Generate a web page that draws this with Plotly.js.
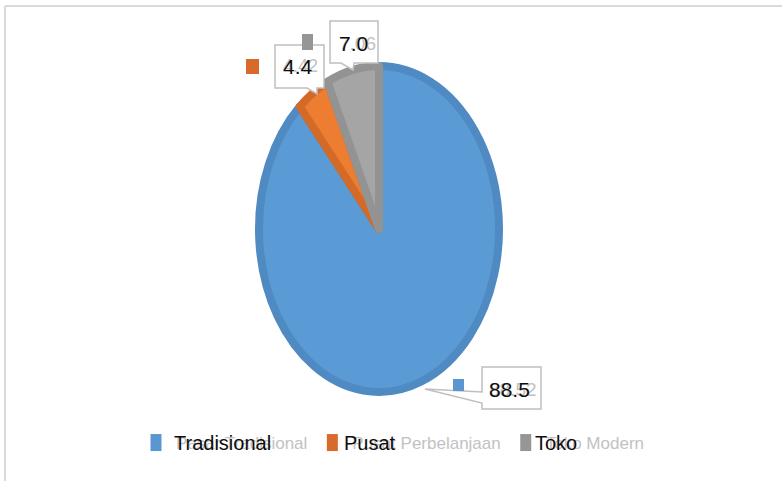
<!DOCTYPE html>
<html><head><meta charset="utf-8">
<script src="https://cdn.plot.ly/plotly-3.0.1.min.js"></script>
<style>html,body{margin:0;padding:0;background:#fff}#chart{width:782px;height:481px}</style>
</head><body><div id="chart"></div>
<script>
// ---- data ----
const categories = ['Pasar Tradisional', 'Pusat Perbelanjaan', 'Toko Modern'];
const shortLabels = ['Tradisional', 'Pusat', 'Toko'];
const values = [88.52, 4.42, 7.06];

// ---- styling ----
const fillColors = ['#5b9bd5', '#ed7d31', '#a5a5a5'];
const edgeColors = ['#4f8ac2', '#d46a28', '#939393'];
const keyColors = ['#5a97d0', '#d86b2b', '#969696'];
const GHOST = '#c2c2c2';
const FONT = 'Liberation Sans, Arial, sans-serif';

const W = 782, H = 481;
const fx = x => x / W;
const fy = y => 1 - y / H;

// pie placement (pixels) and vertical stretch of the ellipse
const pieCx = 379, pieCy = 229, pieR = 120, stretch = 1.358;
const domain = {
  x: [fx(pieCx - pieR), fx(pieCx + pieR)],
  y: [fy(pieCy + pieR), fy(pieCy - pieR)]
};

// callout boxes (pixels): box, pointer, key square, text start/centre
const callouts = [
  {box: [482, 367, 541, 409], ptr: 'left', ptrPts: [[482, 403], [425, 389], [482, 392]],
   key: [453, 379, 464, 391], tx: 487, ty: 389, gs: 19},
  {box: [275, 45, 324, 88], ptr: 'bottom', ptrPts: [[317, 88], [317, 94], [307, 88]],
   key: [246, 59, 259, 74], tx: 281, ty: 66, gs: 18},
  {box: [330, 21, 378, 63], ptr: 'bottom', ptrPts: [[354, 63], [353, 70], [341, 63]],
   key: [302, 34, 313, 50], tx: 337, ty: 43, gs: 19}
];
const legendTextX = [172, 342, 533];
const legendY = 443;

const shapes = [];
const annotations = [];

// chart frame (left and top edges visible)
shapes.push({type: 'line', xref: 'paper', yref: 'paper', x0: fx(5), x1: fx(5), y0: fy(6), y1: 0,
  line: {color: '#d9d9d9', width: 2}});
shapes.push({type: 'line', xref: 'paper', yref: 'paper', x0: fx(5), x1: 1, y0: fy(6), y1: fy(6),
  line: {color: '#d9d9d9', width: 2}});

callouts.forEach((c, i) => {
  const [x0, y0, x1, y1] = c.box;
  const P = (x, y) => fx(x) + ',' + fy(y);
  const [a, t, b] = c.ptrPts;
  let d;
  if (c.ptr === 'left') {
    d = 'M' + P(x0, y0) + 'L' + P(x1, y0) + 'L' + P(x1, y1) + 'L' + P(x0, y1) +
        'L' + P(a[0], a[1]) + 'L' + P(t[0], t[1]) + 'L' + P(b[0], b[1]) + 'Z';
  } else {
    d = 'M' + P(x0, y0) + 'L' + P(x1, y0) + 'L' + P(x1, y1) +
        'L' + P(a[0], a[1]) + 'L' + P(t[0], t[1]) + 'L' + P(b[0], b[1]) +
        'L' + P(x0, y1) + 'Z';
  }
  shapes.push({type: 'path', xref: 'paper', yref: 'paper', path: d,
    fillcolor: '#ffffff', line: {color: '#bfbfbf', width: 1.5}, layer: 'above'});
  const k = c.key;
  shapes.push({type: 'rect', xref: 'paper', yref: 'paper', x0: fx(k[0]), x1: fx(k[2]),
    y0: fy(k[3]), y1: fy(k[1]), fillcolor: keyColors[i], line: {width: 0}, layer: 'above'});

  const v = values[i];
  annotations.push({xref: 'paper', yref: 'paper', x: fx(c.tx), y: fy(c.ty), xanchor: 'left',
    yanchor: 'middle', showarrow: false, text: v.toFixed(2),
    font: {family: FONT, size: c.gs, color: GHOST}});
  annotations.push({xref: 'paper', yref: 'paper', x: fx(c.tx), y: fy(c.ty), xanchor: 'left',
    yanchor: 'middle', showarrow: false, text: (Math.floor(v * 10) / 10).toFixed(1),
    font: {family: FONT, size: 21, color: '#0d0d0d'}});
});

shortLabels.forEach((s, i) => {
  annotations.push({xref: 'paper', yref: 'paper', x: fx(legendTextX[i]), y: fy(legendY),
    xanchor: 'left', yanchor: 'middle', showarrow: false, text: s,
    font: {family: FONT, size: 20, color: '#0d0d0d'}});
});

const trace = {
  type: 'pie',
  labels: categories,
  values: values,
  sort: false,
  direction: 'clockwise',
  rotation: 0,
  textinfo: 'none',
  hoverinfo: 'label+value',
  domain: domain,
  marker: {colors: fillColors, line: {color: edgeColors, width: 8}}
};

const layout = {
  width: W, height: H, autosize: false,
  margin: {l: 0, r: 0, t: 0, b: 0, pad: 0},
  paper_bgcolor: '#ffffff',
  font: {family: FONT},
  showlegend: true,
  legend: {orientation: 'h', x: fx(136), y: fy(legendY), xanchor: 'left', yanchor: 'middle',
    font: {family: FONT, size: 17, color: GHOST}, bgcolor: 'rgba(0,0,0,0)', traceorder: 'normal'},
  shapes: shapes,
  annotations: annotations
};

Plotly.newPlot('chart', [trace], layout, {displayModeBar: false, staticPlot: true}).then(gd => {
  const layer = gd.querySelector('.pielayer');
  if (layer) {
    const cy = H * (1 - (domain.y[0] + domain.y[1]) / 2);
    layer.setAttribute('transform',
      'translate(0,' + cy + ') scale(1,' + stretch + ') translate(0,' + (-cy) + ')');
    layer.querySelectorAll('path').forEach(p => p.setAttribute('vector-effect', 'non-scaling-stroke'));
  }
  // solid, taller legend keys as in the reference
  gd.querySelectorAll('.legend .legendpoints path').forEach((p, i) => {
    p.setAttribute('d', 'M5.5,8.5H-5.5V-8.5H5.5Z');
    p.style.fill = keyColors[i % keyColors.length];
    p.style.stroke = 'none';
  });
});
</script>
</body></html>
